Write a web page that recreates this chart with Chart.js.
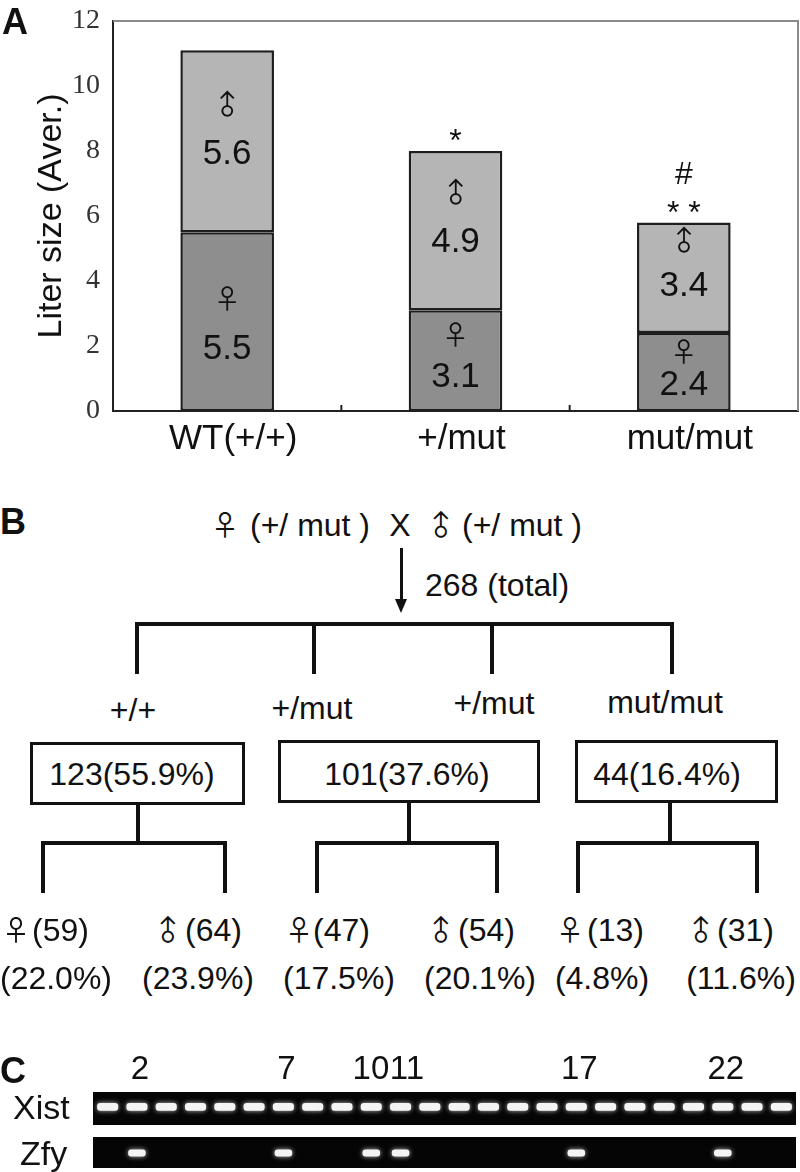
<!DOCTYPE html>
<html><head><meta charset="utf-8">
<script src="https://cdn.jsdelivr.net/npm/chart.js@4/dist/chart.umd.min.js"></script>
<style>
html,body{margin:0;padding:0;background:#fff;}
body{width:800px;height:1172px;position:relative;overflow:hidden;font-family:"Liberation Sans",Arial,sans-serif;color:#111;}
canvas{position:absolute;}
.t{position:absolute;font-size:32px;line-height:1;white-space:nowrap;}
.ln{position:absolute;background:#111;}
.box{position:absolute;border:3px solid #111;box-sizing:border-box;}
.sym{position:absolute;font-family:"Noto Sans CJK SC","DejaVu Sans";font-size:28px;line-height:1;}
.panel{position:absolute;font-weight:bold;font-size:36px;line-height:1;}
</style></head>
<body>
<canvas id="chartA" width="800" height="480" style="left:0;top:0;width:800px;height:480px"></canvas>
<canvas id="gelXist" width="800" height="85" style="left:0;top:1040px;width:800px;height:85px"></canvas>
<canvas id="gelZfy" width="800" height="31" style="left:0;top:1137px;width:800px;height:31px"></canvas>
<div id="overlay"></div>
<script>
// ---------- Panel A data ----------
const genotypes = ['WT(+/+)', '+/mut', 'mut/mut'];
const femaleLitter = [5.5, 3.1, 2.4];
const maleLitter = [5.6, 4.9, 3.4];
const yTickValues = [0, 2, 4, 6, 8, 10, 12];
const starMarks = ['', '*', '* *'];
const hashMarks = ['', '', '#'];
const sexSymbols = ['\u2640', '\u2642'];

// ---------- Panel B data ----------
const parentCross = ['(+/ mut )', 'X', '(+/ mut )'];
const totalOffspring = 268;
const branchLabels = ['+/+', '+/mut', '+/mut', 'mut/mut'];
const genotypeCounts = [123, 101, 44];
const genotypePercents = ['55.9%', '37.6%', '16.4%'];
const femaleCounts = [59, 47, 13];
const maleCounts = [64, 54, 31];
const femalePercents = ['22.0%', '17.5%', '4.8%'];
const malePercents = ['23.9%', '20.1%', '11.6%'];

// ---------- Panel C data ----------
const laneNumbers = [1,2,3,4,5,6,7,8,9,10,11,12,13,14,15,16,17,18,19,20,21,22,23,24];
const xistBands = [1,1,1,1,1,1,1,1,1,1,1,1,1,1,1,1,1,1,1,1,1,1,1,1];
const zfyBands  = [0,1,0,0,0,0,1,0,0,1,1,0,0,0,0,0,1,0,0,0,0,1,0,0];

function drawCentered(ctx, text, x, cy) {
  ctx.textBaseline = 'alphabetic';
  const m = ctx.measureText(text);
  ctx.fillText(text, x, cy + (m.actualBoundingBoxAscent - m.actualBoundingBoxDescent) / 2);
}
function drawSymbol(ctx, s, x, cy) {
  ctx.save();
  ctx.translate(x, cy);
  if (s === '\u2642') ctx.rotate(-Math.PI / 4);
  ctx.textAlign = 'center';
  drawCentered(ctx, s, 0, 0);
  ctx.restore();
}

const barLabels = {
  id: 'barLabels',
  afterDatasetsDraw(chart) {
    const ctx = chart.ctx;
    ctx.save();
    ctx.fillStyle = '#111';
    ctx.textAlign = 'center';
    chart.data.datasets.forEach((ds, di) => {
      const meta = chart.getDatasetMeta(di);
      meta.data.forEach((bar, i) => {
        const h = bar.base - bar.y;
        const vy = bar.base - h * (di === 0 ? 0.36 : 0.44);
        ctx.font = '35px "Liberation Sans"';
        drawCentered(ctx, ds.data[i].toFixed(1), bar.x, vy);
        const sy = vy - Math.min(48, h * 0.4);
        ctx.font = '27px "Noto Sans CJK SC", "DejaVu Sans"';
        drawSymbol(ctx, sexSymbols[di], bar.x, sy);
        if (di === chart.data.datasets.length - 1) {
          ctx.font = '32px "Liberation Sans"';
          if (starMarks[i]) drawCentered(ctx, starMarks[i], bar.x, bar.y - 16);
          if (hashMarks[i]) drawCentered(ctx, hashMarks[i], bar.x, bar.y - 50);
        }
      });
    });
    ctx.restore();
  },
  afterDraw(chart) {
    const {ctx, chartArea: a} = chart;
    ctx.save();
    ctx.strokeStyle = '#8a8a8a';
    ctx.lineWidth = 2;
    ctx.beginPath();
    ctx.moveTo(a.left, a.top); ctx.lineTo(a.right, a.top); ctx.lineTo(a.right, a.bottom);
    ctx.stroke();
    const xs = chart.scales.x;
    ctx.strokeStyle = '#222';
    ctx.lineWidth = 2;
    for (let i = 0; i < genotypes.length - 1; i++) {
      const x = (xs.getPixelForValue(i) + xs.getPixelForValue(i + 1)) / 2;
      ctx.beginPath(); ctx.moveTo(x, a.bottom); ctx.lineTo(x, a.bottom - 6); ctx.stroke();
    }
    ctx.restore();
  }
};

new Chart(document.getElementById('chartA'), {
  type: 'bar',
  data: {
    labels: genotypes,
    datasets: [
      {label: 'female', data: femaleLitter, backgroundColor: '#8e8e8e', borderColor: '#1e1e1e', borderWidth: 2.5, borderSkipped: false, barPercentage: 0.41, categoryPercentage: 1},
      {label: 'male', data: maleLitter, backgroundColor: '#b5b5b5', borderColor: '#1e1e1e', borderWidth: 2.5, borderSkipped: false, barPercentage: 0.41, categoryPercentage: 1}
    ]
  },
  options: {
    responsive: false, animation: false, devicePixelRatio: 1,
    layout: {padding: {top: 21, right: 2, left: 0, bottom: 0}},
    plugins: {legend: {display: false}, tooltip: {enabled: false}},
    scales: {
      x: {
        stacked: true,
        grid: {display: false, drawTicks: false},
        border: {display: true, color: '#222', width: 2},
        ticks: {font: {family: 'Liberation Sans', size: 35}, color: '#111', padding: 7, labelOffset: 6},
        afterFit(s) { s.height = 69; }
      },
      y: {
        stacked: true, min: 0, max: 12,
        afterBuildTicks(s) { s.ticks = yTickValues.map(v => ({value: v})); },
        ticks: {font: {family: 'Liberation Serif', size: 28}, color: '#333', padding: 13},
        grid: {display: false, drawTicks: false},
        border: {display: true, color: '#222', width: 2},
        title: {display: true, text: 'Liter size (Aver.)', color: '#111',
                font: {family: 'Liberation Sans', size: 34, lineHeight: 1}, padding: {top: 35, bottom: 0}},
        afterFit(s) { s.width = 113; s.paddingTop = 0; s.paddingBottom = 0; }
      }
    }
  },
  plugins: [barLabels]
});

// ---------- Panel C gels ----------
const gelBg = {
  id: 'gelBg',
  beforeDraw(chart) {
    const {ctx, chartArea: a} = chart;
    ctx.save();
    ctx.fillStyle = '#050505';
    ctx.fillRect(a.left, a.top, a.right - a.left, a.bottom - a.top);
    ctx.restore();
  },
  beforeDatasetsDraw(chart) {
    chart.ctx.save();
    chart.ctx.shadowColor = 'rgba(255,255,255,0.75)';
    chart.ctx.shadowBlur = 5;
  },
  afterDatasetsDraw(chart) { chart.ctx.restore(); }
};

function laneLabel(i) {
  if (!zfyBands[i]) return '';
  const pre = (i > 0 && zfyBands[i - 1]) ? '\u2009' : '';
  const post = (i < zfyBands.length - 1 && zfyBands[i + 1]) ? '\u2009' : '';
  return pre + laneNumbers[i] + post;
}

function gelChart(id, bands, lo, hi, barPct, showLanes) {
  return new Chart(document.getElementById(id), {
    type: 'bar',
    data: {
      labels: laneNumbers.map(String),
      datasets: [{
        data: bands.map(b => b ? [lo, hi] : null),
        backgroundColor: '#f4f4f4', borderWidth: 0, borderRadius: 3, borderSkipped: false,
        barPercentage: barPct, categoryPercentage: 1
      }]
    },
    options: {
      responsive: false, animation: false, devicePixelRatio: 1,
      layout: {padding: {left: 93, right: 4, top: 0, bottom: 0}},
      plugins: {legend: {display: false}, tooltip: {enabled: false}},
      scales: {
        x: {
          position: 'top', display: showLanes,
          grid: {display: false, drawTicks: false}, border: {display: false},
          ticks: {autoSkip: false, maxRotation: 0, font: {family: 'Liberation Sans', size: 33}, color: '#111', padding: 2, labelOffset: 3,
                  callback: (v, i) => laneLabel(i)},
          afterFit(s) { if (showLanes) s.height = 52; }
        },
        y: {display: false, min: 0, max: 1}
      }
    },
    plugins: [gelBg]
  });
}
gelChart('gelXist', xistBands, 0.43, 0.67, 0.72, true);
gelChart('gelZfy', zfyBands, 0.37, 0.6, 0.6, false);

// ---------- Panel B diagram + text ----------
const ov = document.getElementById('overlay');
function el(cls, css, text) {
  const d = document.createElement('div');
  d.className = cls;
  Object.assign(d.style, css);
  if (text !== undefined) d.textContent = text;
  ov.appendChild(d);
  return d;
}
function txtC(s, cx, cy) { return el('t', {left: cx + 'px', top: cy + 'px', transform: 'translate(-50%,-50%)'}, s); }
function txtL(s, x, cy) { return el('t', {left: x + 'px', top: cy + 'px', transform: 'translate(0,-50%)'}, s); }
function sym(s, cx, cy) {
  const rot = s === '\u2642' ? ' rotate(-45deg)' : '';
  return el('sym', {left: cx + 'px', top: cy + 'px', transform: 'translate(-50%,-50%)' + rot}, s);
}
function hline(x1, x2, y, t) { el('ln', {left: x1 + 'px', top: (y - t / 2) + 'px', width: (x2 - x1) + 'px', height: t + 'px'}); }
function vline(x, y1, y2, t) { el('ln', {left: (x - t / 2) + 'px', top: y1 + 'px', width: t + 'px', height: (y2 - y1) + 'px'}); }

// panel letters
el('panel', {left: '2px', top: '4px'}, 'A');
el('panel', {left: '0px', top: '504px'}, 'B');
el('panel', {left: '0px', top: '1053px'}, 'C');

// cross
sym(sexSymbols[0], 225, 524);
txtL(parentCross[0], 250, 525);
txtC(parentCross[1], 400, 525);
sym(sexSymbols[1], 440, 524);
txtL(parentCross[2], 462, 525);
vline(401, 548, 601, 3);
el('', {position: 'absolute', left: '395px', top: '599px', width: 0, height: 0,
        borderLeft: '6px solid transparent', borderRight: '6px solid transparent', borderTop: '14px solid #111'});
txtL(totalOffspring + ' (total)', 425, 585);

// first level tree
hline(135, 674, 624, 4);
[137, 314, 492, 672].forEach(x => vline(x, 622, 674, 4));
const branchPos = [[133, 710], [312, 708], [494, 703], [665, 702]];
branchLabels.forEach((s, i) => txtC(s, branchPos[i][0], branchPos[i][1]));

// boxes
const boxes = [[30, 742, 245, 805], [278, 740, 540, 803], [575, 740, 778, 803]];
const boxTextX = [132, 407, 667];
boxes.forEach((b, i) => {
  el('box', {left: b[0] + 'px', top: b[1] + 'px', width: (b[2] - b[0]) + 'px', height: (b[3] - b[1]) + 'px'});
  txtC(genotypeCounts[i] + '(' + genotypePercents[i] + ')', boxTextX[i], 774);
});

// second level trees
const subTrees = [[138, 43, 225], [409, 317, 497], [670, 578, 757]];
subTrees.forEach((s, i) => {
  vline(s[0], boxes[i][3], 845, 4);
  hline(s[1] - 2, s[2] + 2, 843, 4);
  vline(s[1], 841, 893, 4);
  vline(s[2], 841, 893, 4);
});

// offspring sex counts
const femSymX = [16, 299, 570], femTxtX = [32, 313, 587];
const maleSymX = [167, 440, 700], maleTxtX = [185, 458, 717];
const femPctX = [56, 339, 602], malePctX = [198, 480, 741];
for (let i = 0; i < 3; i++) {
  sym(sexSymbols[0], femSymX[i], 929);
  txtL('(' + femaleCounts[i] + ')', femTxtX[i], 930);
  sym(sexSymbols[1], maleSymX[i], 929);
  txtL('(' + maleCounts[i] + ')', maleTxtX[i], 930);
  txtC('(' + femalePercents[i] + ')', femPctX[i], 978);
  txtC('(' + malePercents[i] + ')', malePctX[i], 978);
}

// gel row labels
el('t', {left: '13px', top: '1107px', transform: 'translate(0,-50%)', fontSize: '34px'}, 'Xist');
el('t', {left: '20px', top: '1153px', transform: 'translate(0,-50%)', fontSize: '34px'}, 'Zfy');
</script>
</body></html>
